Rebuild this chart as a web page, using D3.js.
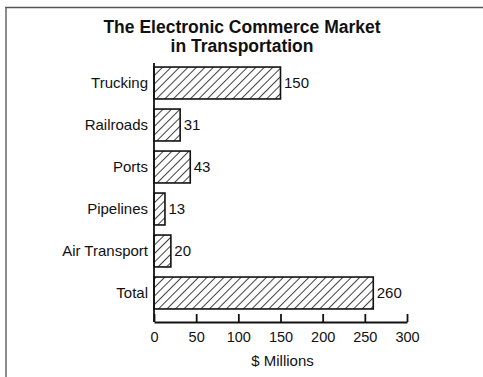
<!DOCTYPE html>
<html>
<head>
<meta charset="utf-8">
<script src="https://cdn.jsdelivr.net/npm/d3@7"></script>
<style>
  html, body { margin: 0; padding: 0; background: #fff; }
  svg { display: block; font-family: "Liberation Sans", Arial, Helvetica, sans-serif; }
</style>
</head>
<body>
<svg id="chart" width="483" height="377"></svg>
<script>
const categories = ["Trucking", "Railroads", "Ports", "Pipelines", "Air Transport", "Total"];
const values = [150, 31, 43, 13, 20, 260];
const xTicks = [0, 50, 100, 150, 200, 250, 300];
const titleLines = ["The Electronic Commerce Market", "in Transportation"];
const xLabel = "$ Millions";

const svg = d3.select("#chart");

// frame (top and left edge)
svg.append("line").attr("x1", 5).attr("x2", 483).attr("y1", 7.5).attr("y2", 7.5)
  .attr("stroke", "#555").attr("stroke-width", 1.5);
svg.append("line").attr("x1", 6).attr("x2", 6).attr("y1", 7).attr("y2", 377)
  .attr("stroke", "#666").attr("stroke-width", 1.5);

// hatch pattern
const defs = svg.append("defs");
const pat = defs.append("pattern").attr("id", "hatch")
  .attr("patternUnits", "userSpaceOnUse").attr("width", 6).attr("height", 6)
  .attr("patternTransform", "rotate(45)");
pat.append("rect").attr("width", 6).attr("height", 6).attr("fill", "#fff");
pat.append("line").attr("x1", 0).attr("x2", 0).attr("y1", 0).attr("y2", 6)
  .attr("stroke", "#111").attr("stroke-width", 1.6);

const x = d3.scaleLinear().domain([0, 300]).range([154, 407]);
const y = d3.scaleBand().domain(categories).range([61, 315]).paddingInner(0.24).paddingOuter(0.144);
const axisY = 322;

// title
svg.append("g").selectAll("text").data(titleLines).join("text")
  .attr("x", 242).attr("y", (d, i) => 33 + i * 19)
  .attr("text-anchor", "middle")
  .attr("font-weight", "bold").attr("font-size", 17.5)
  .attr("fill", "#111").text(d => d);

// bars
svg.append("g").selectAll("rect").data(values).join("rect")
  .attr("x", x(0))
  .attr("y", (d, i) => y(categories[i]))
  .attr("width", d => x(d) - x(0))
  .attr("height", y.bandwidth())
  .attr("fill", "url(#hatch)")
  .attr("stroke", "#111").attr("stroke-width", 1.6);

// value labels
svg.append("g").selectAll("text").data(values).join("text")
  .attr("x", d => x(d) + 3.5)
  .attr("y", (d, i) => y(categories[i]) + y.bandwidth() / 2)
  .attr("dy", "0.35em")
  .attr("font-size", 15).attr("fill", "#111")
  .text(d => d);

// y axis labels
const yAxis = d3.axisLeft(y).tickSize(0).tickPadding(6);
const gy = svg.append("g").attr("transform", `translate(${x(0)},0)`).call(yAxis);
gy.select(".domain").remove();
gy.selectAll("text").attr("font-size", 15).attr("fill", "#111")
  .attr("font-family", "'Liberation Sans', Arial, sans-serif");

// vertical axis line
svg.append("line").attr("x1", x(0)).attr("x2", x(0))
  .attr("y1", y.range()[0] + 2).attr("y2", axisY)
  .attr("stroke", "#111").attr("stroke-width", 1.8);

// x axis
const xAxis = d3.axisBottom(x).tickValues(xTicks).tickSizeInner(-8).tickSizeOuter(0).tickPadding(10);
const gx = svg.append("g").attr("transform", `translate(0,${axisY})`).call(xAxis);
gx.select(".domain").attr("stroke", "#111").attr("stroke-width", 1.8);
gx.selectAll(".tick line").attr("stroke", "#111").attr("stroke-width", 1.8);
gx.selectAll("text").attr("font-size", 14.5).attr("fill", "#111")
  .attr("font-family", "'Liberation Sans', Arial, sans-serif");

// x label
svg.append("text").attr("x", (x(0) + x(300)) / 2 + 2).attr("y", 366)
  .attr("text-anchor", "middle").attr("font-size", 15).attr("fill", "#111")
  .text(xLabel);
</script>
</body>
</html>
